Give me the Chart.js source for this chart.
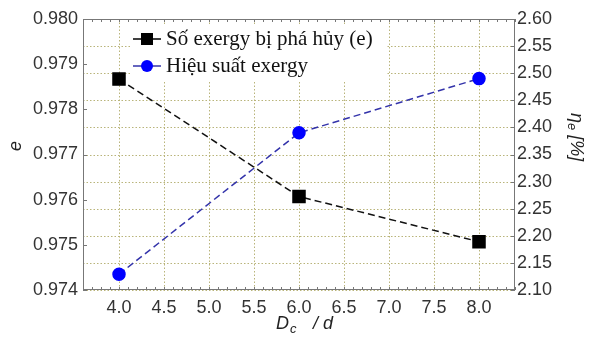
<!DOCTYPE html>
<html>
<head>
<meta charset="utf-8">
<script src="https://cdn.jsdelivr.net/npm/chart.js@4.4.0/dist/chart.umd.min.js"></script>
<style>
  html, body { margin: 0; padding: 0; background: #fff; }
  #wrap { width: 591px; height: 338px; }
</style>
</head>
<body>
<div id="wrap"><canvas id="chart" width="591" height="338"></canvas></div>
<script>
// values
const ratios = [4.0, 6.0, 8.0];                      // Dc / d
const exergyDestroyed = [0.97867, 0.97607, 0.97507]; // e (left axis)
const exergyEfficiency = [2.129, 2.390, 2.490];      // eta_e [%] (right axis)

const xTicks = [4.0, 4.5, 5.0, 5.5, 6.0, 6.5, 7.0, 7.5, 8.0];
const leftTicks = [0.974, 0.975, 0.976, 0.977, 0.978, 0.979, 0.980];
const rightTicks = [2.10, 2.15, 2.20, 2.25, 2.30, 2.35, 2.40, 2.45, 2.50, 2.55, 2.60];

const legendLabels = ['Số exergy bị phá hủy (e)', 'Hiệu suất exergy'];

const tickFont = { family: 'Liberation Sans', size: 18 };
const tickColor = '#333';

// dotted grid under the lines
const dottedGrid = {
  id: 'dottedGrid',
  beforeDatasetsDraw(chart) {
    const { ctx, chartArea: a, scales } = chart;
    ctx.save();
    ctx.strokeStyle = '#b9b47a';
    ctx.lineWidth = 1;
    ctx.setLineDash([1.5, 2]);
    ctx.beginPath();
    xTicks.forEach(v => {
      const px = Math.round(scales.x.getPixelForValue(v)) + 0.5;
      ctx.moveTo(px, a.top); ctx.lineTo(px, a.bottom);
    });
    rightTicks.forEach(v => {
      const py = Math.round(scales.y2.getPixelForValue(v)) + 0.5;
      ctx.moveTo(a.left, py); ctx.lineTo(a.right, py);
    });
    ctx.stroke();
    ctx.restore();
  }
};

// frame, minor ticks, axis titles and the boxed legend
const decorations = {
  id: 'decorations',
  afterDraw(chart) {
    const { ctx, chartArea: a, scales } = chart;
    ctx.save();

    ctx.strokeStyle = '#777';
    ctx.lineWidth = 1;
    ctx.setLineDash([]);
    ctx.strokeRect(a.left + 0.5, a.top + 0.5, a.right - a.left - 1, a.bottom - a.top - 1);

    ctx.beginPath();
    for (let v = 3.7; v < 8.4; v += 0.1) {
      const px = Math.round(scales.x.getPixelForValue(v)) + 0.5;
      ctx.moveTo(px, a.bottom); ctx.lineTo(px, a.bottom - 3);
      ctx.moveTo(px, a.top); ctx.lineTo(px, a.top + 3);
    }
    leftTicks.forEach(v => {
      const py = Math.round(scales.y.getPixelForValue(v)) + 0.5;
      ctx.moveTo(a.left, py); ctx.lineTo(a.left + 4, py);
    });
    rightTicks.forEach(v => {
      const py = Math.round(scales.y2.getPixelForValue(v)) + 0.5;
      ctx.moveTo(a.right, py); ctx.lineTo(a.right - 4, py);
    });
    ctx.stroke();

    // axis titles
    ctx.fillStyle = '#222';
    ctx.textBaseline = 'middle';
    ctx.textAlign = 'center';
    ctx.font = 'italic 18px "Liberation Sans"';
    ctx.save();
    ctx.translate(16, 146);
    ctx.rotate(-Math.PI / 2);
    ctx.fillText('e', 0, 0);
    ctx.restore();

    ctx.save();
    ctx.translate(576, 113);
    ctx.rotate(Math.PI / 2);
    ctx.textAlign = 'left';
    ctx.font = 'italic 18px "Liberation Sans"';
    ctx.fillText('η', 0, 0);
    let w = ctx.measureText('η').width;
    ctx.font = 'italic 13px "Liberation Sans"';
    ctx.fillText('e', w, 4);
    w += ctx.measureText('e').width + 5;
    ctx.font = 'italic 18px "Liberation Sans"';
    ctx.fillText('[%]', w, 0);
    ctx.restore();

    ctx.textAlign = 'left';
    ctx.font = 'italic 18px "Liberation Sans"';
    ctx.fillText('D', 276, 324);
    ctx.font = 'italic 13px "Liberation Sans"';
    ctx.fillText('c', 290, 329);
    ctx.font = 'italic 18px "Liberation Sans"';
    ctx.fillText('/ d', 313, 324);

    // legend
    ctx.fillStyle = '#fff';
    ctx.fillRect(130, 26, 256, 54);
    const rows = [
      { y: 39, color: '#000', line: '#000', shape: 'square' },
      { y: 66, color: '#0000ff', line: '#3333aa', shape: 'circle' }
    ];
    rows.forEach((r, i) => {
      ctx.strokeStyle = r.line;
      ctx.lineWidth = 1.5;
      ctx.beginPath();
      ctx.moveTo(133, r.y); ctx.lineTo(161, r.y);
      ctx.stroke();
      ctx.fillStyle = r.color;
      if (r.shape === 'square') {
        ctx.fillRect(141, r.y - 6, 12, 12);
      } else {
        ctx.beginPath();
        ctx.arc(147, r.y, 6, 0, Math.PI * 2);
        ctx.fill();
      }
      ctx.fillStyle = '#111';
      ctx.font = '21px "Liberation Serif"';
      ctx.textAlign = 'left';
      ctx.fillText(legendLabels[i], 166, r.y);
    });
    ctx.restore();
  }
};

new Chart(document.getElementById('chart'), {
  type: 'line',
  data: {
    datasets: [{
      label: legendLabels[0],
      data: ratios.map((x, i) => ({ x: x, y: exergyDestroyed[i] })),
      yAxisID: 'y',
      borderColor: '#111',
      borderWidth: 1.5,
      borderDash: [7, 4],
      pointStyle: 'rect',
      pointRadius: 8.5,
      pointBackgroundColor: '#000',
      pointBorderColor: '#000',
      fill: false
    }, {
      label: legendLabels[1],
      data: ratios.map((x, i) => ({ x: x, y: exergyEfficiency[i] })),
      yAxisID: 'y2',
      borderColor: '#3333aa',
      borderWidth: 1.5,
      borderDash: [7, 4],
      pointStyle: 'circle',
      pointRadius: 6,
      pointBackgroundColor: '#0000ff',
      pointBorderColor: '#0000ff',
      fill: false
    }]
  },
  options: {
    responsive: false,
    animation: false,
    layout: { padding: { top: 19, left: 0, right: 0, bottom: 0 } },
    plugins: { legend: { display: false }, tooltip: { enabled: false } },
    scales: {
      x: {
        type: 'linear',
        min: 3.6,
        max: 8.4,
        afterBuildTicks: s => { s.ticks = xTicks.map(v => ({ value: v })); },
        afterFit: s => { s.height = 48; },
        ticks: {
          font: tickFont,
          color: tickColor,
          padding: 7,
          maxRotation: 0,
          callback: v => v.toFixed(1)
        },
        grid: { display: false, drawTicks: false },
        border: { display: false }
      },
      y: {
        position: 'left',
        min: 0.974,
        max: 0.980,
        afterBuildTicks: s => { s.ticks = leftTicks.map(v => ({ value: v })); },
        afterFit: s => { s.width = 83; },
        ticks: {
          font: tickFont,
          color: tickColor,
          padding: 5,
          callback: v => v.toFixed(3)
        },
        grid: { display: false, drawTicks: false },
        border: { display: false }
      },
      y2: {
        position: 'right',
        min: 2.10,
        max: 2.60,
        afterBuildTicks: s => { s.ticks = rightTicks.map(v => ({ value: v })); },
        afterFit: s => { s.width = 76; },
        ticks: {
          font: tickFont,
          color: tickColor,
          padding: 2,
          callback: v => v.toFixed(2)
        },
        grid: { display: false, drawTicks: false },
        border: { display: false }
      }
    }
  },
  plugins: [dottedGrid, decorations]
});
</script>
</body>
</html>
